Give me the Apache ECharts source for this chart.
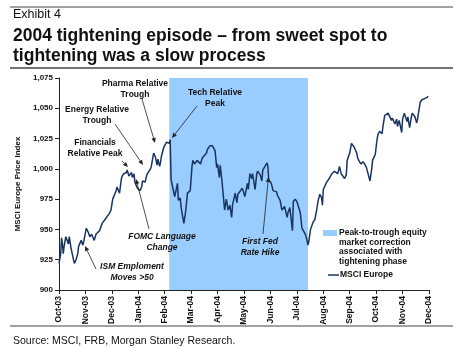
<!DOCTYPE html>
<html>
<head>
<meta charset="utf-8">
<script src="https://cdn.jsdelivr.net/npm/echarts@6/dist/echarts.min.js"></script>
<style>
html,body{margin:0;padding:0;background:#fff;}
#c{width:462px;height:348px;}
</style>
</head>
<body>
<div id="c"></div>
<script>
// ---- data ----
// days since 2003-10-01
const days = [0,2,3,4,5,6,8,10,11,12,14,17,18,20,22,23,26,28,29,32,34,36,38,41,43,47,50,54,56,58,
60,62,64,66,67,70,72,73,75,78,79,81,84,85,87,88,91,94,96,97,100,102,104,107,108,110,112,114,115,117,118,119,122,124,125,128,129,
130,132,134,137,138,140,141,144,146,148,151,153,154,156,159,160,163,165,167,170,171,174,177,180,182,183,185,186,188,189,191,193,195,197,199,200,
203,205,206,208,211,212,214,217,218,220,222,223,226,228,229,232,234,235,237,240,241,242,245,247,251,252,255,257,258,260,263,264,266,269,270,272,274,275,278,280,281,284,286,287,
288,290,293,295,297,299,301,303,304,305,309,310,312,315,316,318,320,322,324,326,327,330,332,333,336,338,339,341,344,345,347,349,351,353,355,356,359,361,362,365,367,368,370,373,374,376,378,380,382,384,385,388,390,391,393,396,397,399,402,403,405,407,408,411,413,414,417,419,420,422,425,426];
const msciEurope = [922,930,943,938,930,936,944,940,938,944,935,925,922,925,930,936,941,937,940,951,948,944,946,941,946,949,955,959,960,963,
966,975,976,982,985,980,991,994,996,997,999,994,997,993,996,989,984,982,985,990,989,995,994,1001,1005,1013,1010,1003,1008,1002,1005,1010,1018,1019,1022,1021,1024,
991,990,977,988,974,976,968,955,965,980,982,1002,1007,1004,1007,1008,1004,1009,1008,1013,1016,1019,1019,1015,1001,1004,993,1003,990,982,966,975,966,970,960,970,
980,972,979,978,984,982,977,988,983,996,992,996,983,996,998,995,990,999,998,1005,1002,991,988,982,981,978,974,966,965,969,960,964,968,949,973,975,973,973,964,951,950,946,941,937,
940,950,956,958,965,974,979,976,970,983,989,990,992,996,995,998,999,996,1002,996,997,992,995,1007,1013,1021,1022,1018,1013,1009,1006,1004,1006,1004,1001,1002,990,1000,1007,1012,1024,1028,1031,1029,1035,1044,1043,1046,1047,1040,1042,1037,1041,1035,1040,1030,1041,1046,1039,1043,1034,1043,1046,1043,1038,1041,1055,1057,1057,1058,1059,1060];
const monthLabels = ['Oct-03','Nov-03','Dec-03','Jan-04','Feb-04','Mar-04','Apr-04','May-04','Jun-04','Jul-04','Aug-04','Sep-04','Oct-04','Nov-04','Dec-04'];
const shadeStartDay = 128;  // ~2004-02-06
const shadeEndDay = 287;    // ~2004-07-14
const yMin = 900, yMax = 1075, yStep = 25;

// convert day offset to fractional month index (0 = Oct-03)
function toMonth(d){
  const dt = new Date(Date.UTC(2003, 9, 1 + d));
  const y = dt.getUTCFullYear(), mo = dt.getUTCMonth(), day = dt.getUTCDate();
  const dim = new Date(Date.UTC(y, mo + 1, 0)).getUTCDate();
  return (y - 2003) * 12 + mo - 9 + (day - 1) / dim;
}
const lineData = days.map((d, i) => [toMonth(d), msciEurope[i]]);

const FONT = "'Liberation Sans', Arial, sans-serif";
const TXT = '#111';
const LINE = '#1a3460';
const AF = 8.5;

function label(text, x, y, opts){
  return {
    type: 'text', x: x, y: y, z: 50, silent: true,
    style: Object.assign({text: text, fill: TXT, font: 'bold ' + AF + 'px ' + FONT, align: 'center', verticalAlign: 'middle', lineHeight: 10.5}, opts || {})
  };
}
function arrow(x1, y1, x2, y2){
  const ang = Math.atan2(y2 - y1, x2 - x1);
  const L = 5, W = 2.2;
  const bx = x2 - L * Math.cos(ang), by = y2 - L * Math.sin(ang);
  const px = -Math.sin(ang) * W, py = Math.cos(ang) * W;
  return [
    {type: 'line', z: 50, silent: true, shape: {x1: x1, y1: y1, x2: bx, y2: by}, style: {stroke: '#222', lineWidth: 0.8}},
    {type: 'polygon', z: 50, silent: true, shape: {points: [[x2, y2], [bx + px, by + py], [bx - px, by - py]]}, style: {fill: '#222'}}
  ];
}
function rule(y, w){
  return {type: 'line', z: 50, silent: true, shape: {x1: 10, y1: y, x2: 453, y2: y}, style: {stroke: '#444', lineWidth: w}};
}
function txt(text, x, y, font){
  return {type: 'text', x: x, y: y, z: 50, silent: true, style: {text: text, fill: TXT, font: font, verticalAlign: 'middle'}};
}

const graphics = [].concat(
  [rule(7, 1), rule(68, 1.5), rule(326, 1.2)],
  [
    txt('Exhibit 4', 13, 15, '12.5px ' + FONT),
    txt('2004 tightening episode \u2013 from sweet spot to', 13, 36, 'bold 17.5px ' + FONT),
    txt('tightening was a slow process', 13, 56, 'bold 17.5px ' + FONT),
    txt('Source: MSCI, FRB, Morgan Stanley Research.', 13, 341, '10.5px ' + FONT)
  ],
  // annotations
  [label('Pharma Relative\nTrough', 135, 89)], arrow(142, 99, 155, 143),
  [label('Energy Relative\nTrough', 97, 115)], arrow(115, 124, 143, 165),
  [label('Financials\nRelative Peak', 95, 148)], arrow(122, 161, 128, 167),
  [label('Tech Relative\nPeak', 215, 98)], arrow(197, 106, 172, 138),
  [label('FOMC Language\nChange', 162, 242, {font: 'italic bold ' + AF + 'px ' + FONT})], arrow(149, 229, 136, 179),
  [label('ISM Emploment\nMoves >50', 132, 272, {font: 'italic bold ' + AF + 'px ' + FONT})], arrow(96, 269, 85, 246),
  [label('First Fed\nRate Hike', 260, 247, {font: 'italic bold ' + AF + 'px ' + FONT})], arrow(263, 234, 268.5, 177),
  // legend
  [
    {type: 'rect', z: 50, silent: true, shape: {x: 323, y: 230, width: 14, height: 6}, style: {fill: '#99CCFF'}},
    label('Peak-to-trough equity\nmarket correction\nassociated with\ntightening phase', 339, 247, {align: 'left', lineHeight: 9.5}),
    {type: 'line', z: 50, silent: true, shape: {x1: 328, y1: 275, x2: 339, y2: 275}, style: {stroke: LINE, lineWidth: 1.5}},
    label('MSCI Europe', 340, 275, {align: 'left'})
  ]
);

const chart = echarts.init(document.getElementById('c'), null, {renderer: 'canvas'});
chart.setOption({
  animation: false,
  backgroundColor: '#fff',
  textStyle: {fontFamily: FONT},
  grid: {left: 59, right: 33, top: 78, bottom: 58, containLabel: false},
  xAxis: {
    type: 'value', min: 0, max: monthLabels.length - 1, interval: 1,
    axisLine: {show: true, onZero: false, lineStyle: {color: '#222', width: 1}},
    axisTick: {show: true, length: 4, lineStyle: {color: '#222'}},
    axisLabel: {rotate: 90, margin: 6, fontSize: 8.5, fontWeight: 'bold', color: TXT, fontFamily: FONT,
      formatter: v => monthLabels[Math.round(v)] || ''},
    splitLine: {show: false}
  },
  yAxis: {
    type: 'value', min: yMin, max: yMax, interval: yStep,
    name: 'MSCI Europe Price Index', nameLocation: 'middle', nameGap: 34, nameRotate: 90,
    nameTextStyle: {fontSize: 8, fontWeight: 'bold', color: TXT, fontFamily: FONT},
    axisLine: {show: true, lineStyle: {color: '#222', width: 1}},
    axisTick: {show: true, length: 4, lineStyle: {color: '#222'}},
    axisLabel: {margin: 6, fontSize: 8, fontWeight: 'bold', color: TXT, fontFamily: FONT,
      formatter: v => String(v).replace(/\B(?=(\d{3})+(?!\d))/g, ',')},
    splitLine: {show: false}
  },
  series: [
    {
      type: 'line', name: 'shade', data: [], z: 1, silent: true,
      markArea: {silent: true, itemStyle: {color: '#99CCFF', opacity: 1},
        data: [[{xAxis: toMonth(shadeStartDay)}, {xAxis: toMonth(shadeEndDay)}]]}
    },
    {
      type: 'line', name: 'MSCI Europe', data: lineData, z: 3,
      showSymbol: false, symbol: 'none', smooth: false,
      lineStyle: {color: LINE, width: 1.5}
    }
  ],
  graphic: graphics
});
</script>
</body>
</html>
